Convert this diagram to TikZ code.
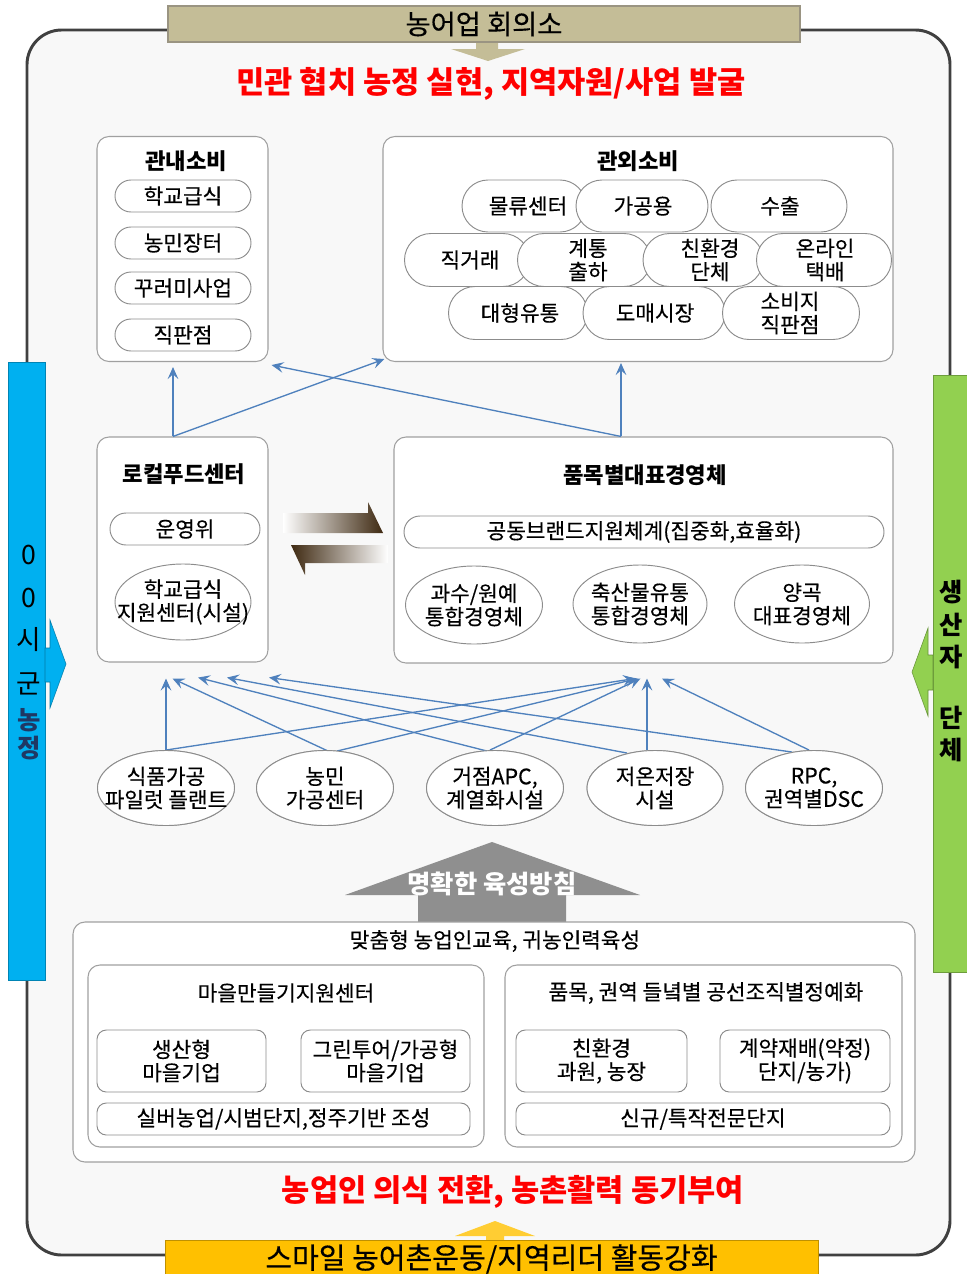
\documentclass[tikz,border=0pt]{standalone}
\usepackage{fontspec}
\setmainfont{Noto Sans CJK KR}[FakeBold=0.3]
\newfontfamily\plainfont{Noto Sans CJK KR}
\usetikzlibrary{shapes.misc,shapes.geometric,arrows.meta,calc}
\definecolor{tan}{HTML}{C4BD97}
\definecolor{tanline}{HTML}{9A9482}
\definecolor{gold}{HTML}{FFC000}
\definecolor{cyanbar}{HTML}{00B0F0}
\definecolor{greenbar}{HTML}{92D050}
\definecolor{navy}{HTML}{1F3864}
\definecolor{ablue}{HTML}{4F81BD}
\definecolor{bgray}{HTML}{A0A0A0}
\definecolor{pgray}{HTML}{8C8C8C}
\definecolor{framec}{HTML}{404040}
\definecolor{bgc}{HTML}{F8F8F8}
\definecolor{garrow}{HTML}{8F8F8F}
\definecolor{dbrown}{HTML}{3F2A12}
\definecolor{mbrown}{HTML}{A8875C}
\definecolor{tred}{HTML}{FF0000}
\begin{document}
\begin{tikzpicture}[x=0.75pt,y=-0.75pt,
  sz/.style 2 args={minimum width=#1*0.75pt, minimum height=#2*0.75pt},
  box/.style={draw=bgray, fill=white, rounded corners=9pt, line width=0.8pt, inner sep=0pt},
  pill/.style={rounded rectangle, draw=pgray, fill=white, line width=0.7pt, inner sep=0pt},
  oval/.style={ellipse, draw=pgray, fill=white, line width=0.7pt, inner sep=0pt},
  rbox/.style={draw=pgray, fill=white, rounded corners=7pt, line width=0.7pt, inner sep=0pt},
  txt/.style={font=\fontsize{16}{17.5}\selectfont, align=center, inner sep=0pt},
  ttl/.style={font=\plainfont\bfseries\fontsize{16.7}{18}\selectfont, inner sep=0pt},
  redt/.style={font=\plainfont\bfseries\fontsize{23}{25}\selectfont, text=tred, inner sep=0pt},
  conn/.style={draw=ablue, line width=1pt, -{Stealth[length=9pt,width=8pt,inset=3.5pt]}},
  gtxt/.style={font=\plainfont\bfseries\fontsize{19}{20}\selectfont, inner sep=0pt},
  btxt/.style={font=\plainfont\fontsize{20}{21}\selectfont, inner sep=0pt},
]
\useasboundingbox (0,0) rectangle (967,1274);
\fill[white] (0,0) rectangle (967,1274);

% outer frame
\draw[draw=framec, line width=2.2pt, fill=bgc, rounded corners=26pt] (27,30) rectangle (950,1255);

% top banner and arrow
\fill[tan] (476,42) -- (498,42) -- (498,49) -- (525,49) -- (488,61) -- (451,49) -- (476,49) -- cycle;
\node[draw=tanline, fill=tan, sz={632}{36}, line width=0.8pt, font=\fontsize{20.5}{22}\selectfont, inner sep=0pt] (hub) at (484,24) {농어업 회의소};

\node[redt] (goal) at (491,84) {민관 협치 농정 실현, 지역자원/사업 발굴};

% ---- 관내소비
\node[box, sz={171}{225}] (nae) at (182.5,249) {};
\node[ttl] (naeT) at (186,161) {관내소비};
\node[pill, sz={136}{32}] (n1) at (183,196) {}; \node[txt] (n1t) at (n1) {학교급식};
\node[pill, sz={136}{32}] (n2) at (183,243) {}; \node[txt] (n2t) at (n2) {농민장터};
\node[pill, sz={136}{32}] (n3) at (183,288) {}; \node[txt] (n3t) at (n3) {꾸러미사업};
\node[pill, sz={136}{32}] (n4) at (183,335) {}; \node[txt] (n4t) at (n4) {직판점};

% ---- 관외소비
\node[box, sz={510}{225}] (oe) at (638,249) {};
\node[ttl] (oeT) at (638,161) {관외소비};
\node[pill, sz={124}{52}] (q1) at (524,206) {}; \node[txt] (q1t) at (528,206) {물류센터};
\node[pill, sz={132}{52}] (q2) at (642,206) {}; \node[txt] (q2t) at (643,206) {가공용};
\node[pill, sz={136}{52}] (q3) at (779,206) {}; \node[txt] (q3t) at (780,206) {수출};
\node[pill, sz={125}{53}] (q4) at (467,260) {}; \node[txt] (q4t) at (470,260) {직거래};
\node[pill, sz={133}{53}] (q5) at (584,260) {}; \node[txt] (q5t) at (588,260) {계통\\출하};
\node[pill, sz={120}{53}] (q6) at (703,260) {}; \node[txt] (q6t) at (710,260) {친환경\\단체};
\node[pill, sz={135}{53}] (q7) at (824,260) {}; \node[txt] (q7t) at (825,260) {온라인\\택배};
\node[pill, sz={139}{53}] (q8) at (518,313) {}; \node[txt] (q8t) at (520,313) {대형유통};
\node[pill, sz={142}{53}] (q9) at (654,313) {}; \node[txt] (q9t) at (655,313) {도매시장};
\node[pill, sz={137}{53}] (q10) at (791,313) {}; \node[txt] (q10t) at (790,313) {소비지\\직판점};

% ---- 로컬푸드센터
\node[box, sz={171}{225}] (lf) at (182.5,549.5) {};
\node[ttl] (lfT) at (184,474) {로컬푸드센터};
\node[pill, sz={150}{32}] (lf1) at (185,529) {}; \node[txt] (lf1t) at (lf1) {운영위};
\node[oval, sz={136}{76}] (lf2) at (183,602) {}; \node[txt] (lf2t) at (lf2) {학교급식\\지원센터(시설)};

% ---- 품목별 대표경영체
\node[box, sz={499}{226}] (pm) at (643.5,550) {};
\node[ttl] (pmT) at (645,475) {품목별대표경영체};
\node[pill, sz={480}{32}] (pm1) at (644,532) {}; \node[txt] (pm1t) at (pm1) {공동브랜드지원체계(집중화,효율화)};
\node[oval, sz={137}{78}] (pm2) at (474,605) {}; \node[txt] (pm2t) at (pm2) {과수/원예\\통합경영체};
\node[oval, sz={134}{78}] (pm3) at (640,604) {}; \node[txt] (pm3t) at (pm3) {축산물유통\\통합경영체};
\node[oval, sz={135}{78}] (pm4) at (802,604) {}; \node[txt] (pm4t) at (pm4) {양곡\\대표경영체};

% ---- brown exchange arrows
\shade[left color=white, middle color=mbrown, right color=dbrown] (283,513) -- (368,513) -- (368,502) -- (383,533) -- (283,533) -- cycle;
\shade[left color=dbrown, middle color=mbrown, right color=white] (291,545) -- (388,545) -- (388,563) -- (305,563) -- (305,575) -- cycle;

% ---- connectors upper
\draw[conn] ($(lf.north)+(-9.5,0)$) -- ($(nae.south)+(-9.5,5)$);
\draw[conn] ($(lf.north)+(-9.5,0)$) -- ($(oe.south west)+(2,-3)$);
\draw[conn] ($(pm.north)+(-22.5,0)$) -- ($(nae.south east)+(3,3)$);
\draw[conn] ($(pm.north)+(-22.5,0)$) -- ($(oe.south)+(-17,1)$);

% ---- facilities
\node[oval, sz={137}{75}] (e1) at (166,788) {};
\node[oval, sz={137}{75}] (e2) at (325,788) {};
\node[oval, sz={137}{75}] (e3) at (495,788) {};
\node[oval, sz={136}{75}] (e4) at (655,788) {};
\node[oval, sz={137}{75}] (e5) at (814,788) {};

\draw[conn] (e1.north) -- ($(lf.south)+(-16.5,16)$);
\draw[conn] (e1.north) -- ($(pm.south)+(-8.5,15)$);
\draw[conn] ($(e2.north)+(3,1)$) -- ($(lf.south)+(-10,16)$);
\draw[conn] ($(e2.north)+(12,1)$) -- ($(pm.south)+(-6,15)$);
\draw[conn] ($(e3.north)+(-8,1)$) -- ($(lf.south)+(15.5,15)$);
\draw[conn] ($(e3.north)+(-5,0)$) -- ($(pm.south)+(-3,15)$);
\draw[conn] ($(e4.north)+(-28,3)$) -- ($(lf.south)+(44.5,15)$);
\draw[conn] ($(e4.north)+(-8,0)$) -- ($(pm.south)+(3.5,15)$);
\draw[conn] ($(e5.north)+(-22,2)$) -- ($(lf.south)+(86.5,15)$);
\draw[conn] ($(e5.north)+(-5,0)$) -- ($(pm.south)+(18.5,15)$);

% redraw facility ovals over line ends
\node[oval, sz={137}{75}] (e1b) at (e1) {}; \node[txt] (e1t) at (e1) {식품가공\\파일럿 플랜트};
\node[oval, sz={137}{75}] (e2b) at (e2) {}; \node[txt] (e2t) at (e2) {농민\\가공센터};
\node[oval, sz={137}{75}] (e3b) at (e3) {}; \node[txt] (e3t) at (e3) {거점APC,\\계열화시설};
\node[oval, sz={136}{75}] (e4b) at (e4) {}; \node[txt] (e4t) at (e4) {저온저장\\시설};
\node[oval, sz={137}{75}] (e5b) at (e5) {}; \node[txt] (e5t) at (e5) {RPC,\\권역별DSC};

% ---- gray guidance arrow
\fill[garrow] (418,923) -- (418,895) -- (345,895) -- (492,842) -- (640,895) -- (566,895) -- (566,923) -- cycle;
\node[font=\plainfont\bfseries\fontsize{19}{21}\selectfont, text=white, inner sep=0pt] (guide) at (492,884) {명확한 육성방침};

% ---- education box
\node[box, sz={842}{240}] (edu) at (494,1042) {};
\node[txt] (eduT) at (495,941) {맞춤형 농업인교육, 귀농인력육성};
\node[box, sz={396}{182}] (vil) at (286,1056) {};
\node[txt] (vilT) at (286,993) {마을만들기지원센터};
\node[box, sz={397}{182}] (grp) at (703.5,1056) {};
\node[txt] (grpT) at (706,993) {품목, 권역 들녘별 공선조직별정예화};
\node[rbox, sz={169}{62}] (v1) at (181.5,1061) {}; \node[txt] (v1t) at (v1) {생산형\\마을기업};
\node[rbox, sz={169}{62}] (v2) at (385.5,1061) {}; \node[txt] (v2t) at (v2) {그린투어/가공형\\마을기업};
\node[rbox, sz={373}{32}] (v3) at (283.5,1119) {}; \node[txt] (v3t) at (v3) {실버농업/시범단지,정주기반 조성};
\node[rbox, sz={171}{62}] (g1) at (601.5,1061) {}; \node[txt] (g1t) at (g1) {친환경\\과원, 농장};
\node[rbox, sz={170}{62}] (g2) at (805,1061) {}; \node[txt] (g2t) at (g2) {계약재배(약정)\\단지/농가)};
\node[rbox, sz={374}{32}] (g3) at (703,1119) {}; \node[txt] (g3t) at (g3) {신규/특작전문단지};

\node[redt] (motive) at (513,1192) {농업인 의식 전환, 농촌활력 동기부여};

% ---- bottom banner
\fill[gold!80!white] (486,1241) -- (486,1236) -- (455,1236) -- (495,1221) -- (535,1236) -- (504,1236) -- (504,1241) -- cycle;
\node[fill=gold, draw=gold!75!black, line width=0.6pt, sz={653}{38}, inner sep=0pt, font=\fontsize{21.8}{24}\selectfont] (smile) at (491.5,1259) {스마일 농어촌운동/지역리더 활동강화};

% ---- left bar
\node[fill=cyanbar, draw=cyanbar!75!black, line width=0.5pt, sz={37}{618}, inner sep=0pt] (gov) at (26.5,671) {};
\fill[cyanbar, draw=cyanbar!70!black, line width=0.4pt] (45,648) -- (50,648) -- (50,620) -- (66,664) -- (50,708) -- (50,682) -- (45,682) -- cycle;
\node[btxt] (g1c) at (29,555) {0};
\node[btxt] (g2c) at (29,598) {0};
\node[btxt] (g3c) at (29,640) {시};
\node[btxt] (g4c) at (29,684) {군};
\node[btxt, text=navy, font=\plainfont\bfseries\fontsize{19}{20}\selectfont] (g5c) at (29,720) {농};
\node[btxt, text=navy, font=\plainfont\bfseries\fontsize{19}{20}\selectfont] (g6c) at (29,748) {정};

% ---- right bar
\node[fill=greenbar, draw=greenbar!75!black, line width=0.5pt, sz={34}{597}, inner sep=0pt] (prod) at (950,673.5) {};
\fill[greenbar, draw=greenbar!70!black, line width=0.4pt] (933,655) -- (928,655) -- (928,628) -- (912,672) -- (928,716) -- (928,690) -- (933,690) -- cycle;
\node[gtxt] (p1c) at (951,592) {생};
\node[gtxt] (p2c) at (951,625) {산};
\node[gtxt] (p3c) at (951,657) {자};
\node[gtxt] (p4c) at (951,718) {단};
\node[gtxt] (p5c) at (951,750) {체};
\end{tikzpicture}
\end{document}
